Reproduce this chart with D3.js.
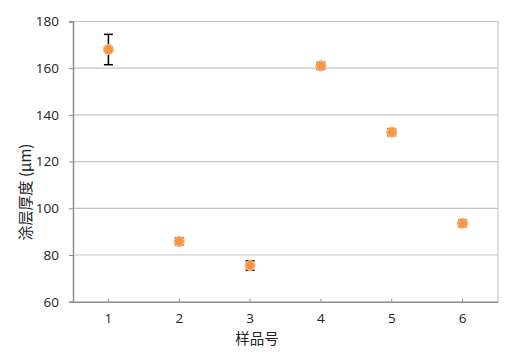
<!DOCTYPE html>
<html><head><meta charset="utf-8">
<script src="https://cdn.jsdelivr.net/npm/d3@7"></script>
<style>body{margin:0;background:#fff}</style>
</head><body>
<svg id="c" width="511" height="357"></svg>
<script>
const categories = ["1","2","3","4","5","6"];
const values = [168.0, 85.8, 75.5, 161.0, 132.6, 93.6];
const errors = [6.5, 1.5, 2.0, 1.5, 1.5, 1.5];
const yTicks = [60, 80, 100, 120, 140, 160, 180];

const svg = d3.select("#c");
const L = 73, R = 498, T = 21.5, B = 301.7;
const font = "'Open Sans', 'Liberation Sans', sans-serif";

const x = d3.scaleBand().domain(categories).range([L, R]);
const y = d3.scaleLinear().domain([60, 180]).range([B, T]);

// gridlines
svg.append("g").selectAll("line").data(yTicks.filter(d => d > 60)).join("line")
  .attr("x1", L).attr("x2", R).attr("y1", d => y(d)).attr("y2", d => y(d))
  .attr("stroke", "#c6c6c6").attr("stroke-width", 1.2);
// right border
svg.append("line").attr("x1", R).attr("x2", R).attr("y1", T).attr("y2", B)
  .attr("stroke", "#c6c6c6").attr("stroke-width", 1.2);

// y axis
const ya = svg.append("g").attr("transform", `translate(${L},0)`)
  .call(d3.axisLeft(y).tickValues(yTicks).tickSize(4).tickPadding(10));
ya.select(".domain").attr("stroke", "#8c8c8c").attr("stroke-width", 1.5);
ya.selectAll(".tick line").attr("stroke", "#8c8c8c");
ya.selectAll("text").attr("font-family", font).attr("font-size", 13.5).attr("fill", "#222");

// x axis
const xa = svg.append("g").attr("transform", `translate(0,${B})`)
  .call(d3.axisBottom(x).tickSize(-3).tickPadding(12).tickSizeOuter(0));
xa.select(".domain").attr("stroke", "#8c8c8c").attr("stroke-width", 1.5);
xa.selectAll(".tick line").attr("stroke", "#8c8c8c");
xa.selectAll("text").attr("font-family", font).attr("font-size", 13.5).attr("fill", "#222");

// error bars
const cx = d => x(d) + x.bandwidth() / 2;
const eb = svg.append("g").attr("stroke", "#000").attr("stroke-width", 1.5);
categories.forEach((c, i) => {
  const xc = cx(c), yt = y(values[i] + errors[i]), yb = y(values[i] - errors[i]);
  eb.append("line").attr("x1", xc).attr("x2", xc).attr("y1", yt).attr("y2", yb);
  eb.append("line").attr("x1", xc - 4.5).attr("x2", xc + 4.5).attr("y1", yt).attr("y2", yt);
  eb.append("line").attr("x1", xc - 4.5).attr("x2", xc + 4.5).attr("y1", yb).attr("y2", yb);
});

// markers
svg.append("g").selectAll("circle").data(categories).join("circle")
  .attr("cx", d => cx(d)).attr("cy", (d, i) => y(values[i])).attr("r", 5)
  .attr("fill", "#f79646").attr("stroke", "#fbb97f").attr("stroke-width", 1.2);

// titles
svg.append("text").attr("x", 257).attr("y", 344)
  .attr("text-anchor", "middle").attr("font-family", "'Noto Sans CJK SC', sans-serif")
  .attr("font-size", 14.5).attr("fill", "#222").text("样品号");
svg.append("text").attr("transform", `translate(31,192) rotate(-90)`)
  .attr("text-anchor", "middle").attr("font-family", "'Noto Sans CJK SC', sans-serif")
  .attr("font-size", 15).attr("fill", "#222").text("涂层厚度 (μm)");
</script>
</body></html>
